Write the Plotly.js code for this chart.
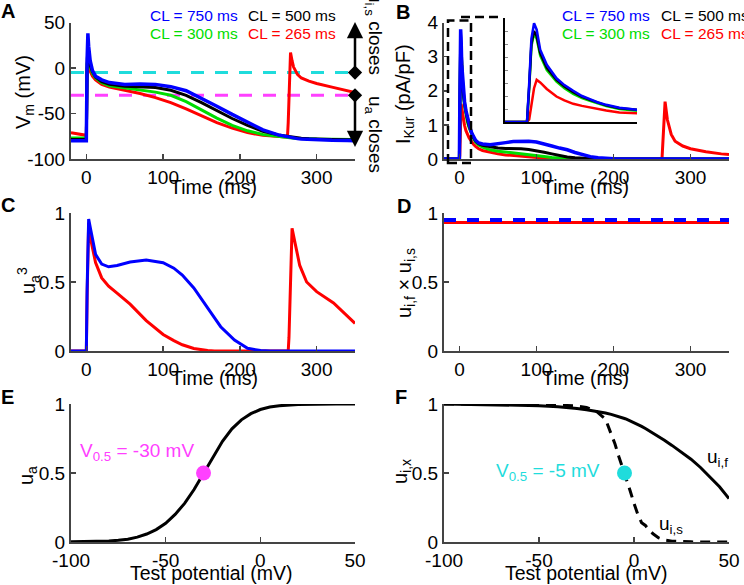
<!DOCTYPE html>
<html>
<head>
<meta charset="utf-8">
<script src="https://cdn.plot.ly/plotly-3.0.1.min.js"></script>
<style>html,body{margin:0;padding:0;background:#fff;}#chart{width:744px;height:585px;}</style>
</head>
<body>
<div id="chart"></div>
<script>
// ---------- DATA ----------
// Panel A: membrane potential (mV) vs time (ms)
var tA = [-20, 0, 1, 2, 3, 5, 8, 12, 20, 30, 50, 70, 90, 110, 130, 150, 170, 190, 210, 230, 250, 262, 263, 265, 266, 268, 270, 275, 280, 290, 300, 320, 340, 350];
var vm750 = [-80, -80, 10, 38, 24, 8, -3, -9, -13, -16, -18, -17.5, -18, -20.5, -25, -33, -42, -51, -60, -68, -73.5, -75.8, -76, -76.3, -76.5, -76.8, -77, -77.6, -78, -78.6, -79, -79.5, -79.8, -80];
var vm500 = [-78.5, -78.5, 5, 22, 12, 3, -4, -10, -15, -18, -20, -20.5, -21.5, -24.5, -30, -38, -47, -55.5, -63, -69.5, -73.5, -75.3, -75.5, -75.7, -75.8, -76, -76.3, -76.8, -77.2, -77.8, -78.2, -78.6, -78.8, -79];
var vm300 = [-77, -77, 4, 10, 6, 0, -6, -11, -16, -19.5, -22, -24, -26.5, -30, -37, -46, -55, -63, -69, -73, -75.5, -76.5, -76.6, -76.8, -76.9, -77, -77.1, -77.3, -77.5, -77.8, -78, -78.2, -78.4, -78.5];
var vm265 = [-71, -74, 0, 3, 0, -4, -9, -13, -18, -21, -24.5, -28, -32.5, -38, -45, -52.5, -60, -66, -71, -74, -75.5, -76, -60, 5, 17, 8, 1, -7, -11, -14.5, -17, -21, -25, -27];
var xSpanA = [-20, 350];
var uisHalf = [-5, -5];   // cyan dashed level
var uaHalf = [-30, -30];  // magenta dashed level
var arrowBaseX = [350, 350];
var arrowBaseY = [-5, -30];

// Panel B: I_Kur (pA/pF)
var tB = [-20, 0, 0.5, 1, 1.6, 2.2, 3, 4.5, 6.7, 8.5, 10.5, 12.5, 14.3, 16, 18, 21, 25, 30, 40, 50, 60, 70, 80, 90, 100, 110, 120, 130, 140, 150, 160, 170, 180, 190, 200, 263, 265, 267, 270, 275, 280, 290, 300, 320, 340, 350];
var ik750 = [0, 0, 1.5, 3.2, 3.8, 3.55, 2.78, 2.2, 1.68, 1.42, 1.2, 1.0, 0.88, 0.76, 0.66, 0.55, 0.47, 0.44, 0.42, 0.44, 0.48, 0.51, 0.52, 0.52, 0.5, 0.45, 0.38, 0.32, 0.27, 0.19, 0.12, 0.07, 0.035, 0.015, 0.005, 0, 0, 0, 0, 0, 0, 0, 0, 0, 0, 0];
var ik500 = [0, 0, 1.35, 3.0, 3.5, 3.3, 2.65, 2.08, 1.62, 1.37, 1.15, 0.97, 0.85, 0.74, 0.64, 0.53, 0.45, 0.4, 0.35, 0.32, 0.31, 0.31, 0.3, 0.28, 0.25, 0.2, 0.15, 0.1, 0.06, 0.035, 0.018, 0.008, 0.003, 0, 0, 0, 0, 0, 0, 0, 0, 0, 0, 0, 0, 0];
var ik300 = [0, 0, 1.3, 2.9, 3.4, 3.2, 2.55, 2.0, 1.55, 1.3, 1.08, 0.92, 0.81, 0.71, 0.61, 0.5, 0.41, 0.35, 0.27, 0.23, 0.2, 0.18, 0.16, 0.13, 0.1, 0.07, 0.045, 0.025, 0.012, 0.005, 0, 0, 0, 0, 0, 0, 0, 0, 0, 0, 0, 0, 0, 0, 0, 0];
var ik265 = [0, 0, 0.1, 0.6, 1.3, 1.62, 1.52, 1.27, 0.98, 0.83, 0.7, 0.62, 0.56, 0.5, 0.44, 0.37, 0.3, 0.25, 0.19, 0.15, 0.12, 0.1, 0.08, 0.055, 0.035, 0.018, 0.008, 0.002, 0, 0, 0, 0, 0, 0, 0, 0, 0.9, 1.68, 1.15, 0.72, 0.52, 0.38, 0.3, 0.21, 0.15, 0.13];

// Panel C: u_a^3
var tC = [-20, 0, 1, 3, 6, 12, 20, 29, 40, 57, 78, 100, 114, 125, 140, 150, 158, 167, 175, 185, 193, 210, 227, 240, 263, 264, 266, 268, 272, 278, 287, 300, 322, 350];
var ua3_750 = [0, 0, 0.45, 0.957, 0.87, 0.7, 0.63, 0.61, 0.62, 0.645, 0.66, 0.64, 0.6, 0.55, 0.457, 0.38, 0.31, 0.24, 0.176, 0.12, 0.08, 0.02, 0.003, 0, 0, 0, 0, 0, 0, 0, 0, 0, 0, 0];
var ua3_265 = [0, 0, 0.4, 0.93, 0.8, 0.64, 0.53, 0.47, 0.42, 0.34, 0.22, 0.12, 0.075, 0.045, 0.018, 0.008, 0.003, 0, 0, 0, 0, 0, 0, 0, 0, 0.1, 0.6, 0.889, 0.78, 0.62, 0.5, 0.43, 0.348, 0.2];

// Panel D: u_i,f x u_i,s
var tD = [-20, 0, 100, 200, 300, 350];
var uiProd750 = [0.95, 0.95, 0.95, 0.95, 0.95, 0.95];
var uiProd265 = [0.932, 0.932, 0.932, 0.932, 0.932, 0.932];

// Panel E: steady-state u_a
var vE = [-100, -90, -80, -75, -70, -65, -60, -55, -50, -45, -40, -35, -30, -25, -20, -15, -10, -5, 0, 5, 10, 20, 30, 40, 50];
var uaInf = [0.001, 0.003, 0.008, 0.012, 0.02, 0.035, 0.058, 0.09, 0.135, 0.2, 0.28, 0.38, 0.5, 0.62, 0.73, 0.82, 0.885, 0.93, 0.96, 0.978, 0.988, 0.997, 1, 1, 1];
var uaV05 = [-30], uaV05y = [0.5];

// Panel F: steady-state u_i,f and u_i,s
var vF = [-100, -80, -60, -50, -40, -35, -30, -25, -20, -15, -12, -10, -8, -6, -5, -4, -2, 0, 2, 4, 6, 8, 10, 13, 16, 20, 25, 30, 35, 40, 45, 50];
var uifInf = [1.0, 0.997, 0.992, 0.988, 0.98, 0.975, 0.968, 0.958, 0.948, 0.935, 0.925, 0.918, 0.91, 0.9, 0.895, 0.89, 0.878, 0.865, 0.852, 0.838, 0.822, 0.806, 0.79, 0.765, 0.738, 0.7, 0.65, 0.6, 0.54, 0.47, 0.4, 0.315];
var uisInf = [1, 1, 0.998, 0.996, 0.993, 0.99, 0.985, 0.975, 0.95, 0.89, 0.78, 0.71, 0.62, 0.54, 0.5, 0.46, 0.37, 0.28, 0.2, 0.14, 0.12, 0.085, 0.06, 0.03, 0.015, 0.006, 0.002, 0.001, 0, 0, 0, 0];
var uisV05 = [-5], uisV05y = [0.5];

// tick labels
var timeTicks = [0, 100, 200, 300], timeText = ['0', '100', '200', '300'];
var vmTicks = [-100, -50, 0, 50], vmText = ['-100', '-50', '0', '50'];
var ikTicks = [0, 1, 2, 3, 4], ikText = ['0', '1', '2', '3', '4'];
var unitTicks = [0, 0.5, 1], unitText = ['0', '0.5', '1'];
var testTicks = [-100, -50, 0, 50], testText = ['-100', '-50', '0', '50'];

// ---------- STYLE ----------
var FONT = 'Liberation Sans, Arial, sans-serif';
var BLUE = '#0000ff', BLACK = '#000000', GREEN = '#00dd00', RED = '#ff0000';
var CYAN = '#1fdcdc', MAGENTA = '#ff40ff';
function px(x) { return x / 744; }
function py(y) { return 1 - y / 585; }

var colL = [px(71), px(355)], colR = [px(444), px(729)];
var row1 = [py(159), py(22.5)], row2 = [py(351), py(213)], row3 = [py(542), py(404)];

function axis(domain, range, tv, tt, anchor) {
  return {
    domain: domain, range: range, tickvals: tv, ticktext: tt,
    ticks: tv ? 'inside' : '', ticklen: 5, tickwidth: 1.5, tickcolor: '#444',
    showline: true, linecolor: '#444', linewidth: 2,
    showgrid: false, zeroline: false, anchor: anchor, fixedrange: true,
    tickfont: {family: FONT, size: 19, color: '#000'}
  };
}

function line(x, y, xa, ya, color, width, dash) {
  return {x: x, y: y, xaxis: xa, yaxis: ya, type: 'scatter', mode: 'lines',
          line: {color: color, width: width, dash: dash || 'solid'}, hoverinfo: 'skip'};
}

var traces = [
  // A
  line(xSpanA, uisHalf, 'x', 'y', CYAN, 3, '13px,11px'),
  line(xSpanA, uaHalf, 'x', 'y', MAGENTA, 3, '13px,11px'),
  line(tA, vm265, 'x', 'y', RED, 3),
  line(tA, vm300, 'x', 'y', GREEN, 3),
  line(tA, vm500, 'x', 'y', BLACK, 3),
  line(tA, vm750, 'x', 'y', BLUE, 3.5),
  {x: arrowBaseX, y: arrowBaseY, xaxis: 'x', yaxis: 'y', type: 'scatter', mode: 'markers',
   marker: {symbol: 'diamond', size: 11, color: '#000'}, cliponaxis: false, hoverinfo: 'skip'},
  // B
  line(tB, ik265, 'x2', 'y2', RED, 3),
  line(tB, ik300, 'x2', 'y2', GREEN, 3),
  line(tB, ik500, 'x2', 'y2', BLACK, 3),
  line(tB, ik750, 'x2', 'y2', BLUE, 3.5),
  // B inset
  line(tB, ik265, 'x7', 'y7', RED, 2.5),
  line(tB, ik300, 'x7', 'y7', GREEN, 2.5),
  line(tB, ik500, 'x7', 'y7', BLACK, 2.5),
  line(tB, ik750, 'x7', 'y7', BLUE, 2.5),
  // C
  line(tC, ua3_265, 'x3', 'y3', RED, 3),
  line(tC, ua3_750, 'x3', 'y3', BLUE, 3),
  // D
  line(tD, uiProd265, 'x4', 'y4', RED, 3),
  line(tD, uiProd750, 'x4', 'y4', BLUE, 4, '12px,11px'),
  // E
  line(vE, uaInf, 'x5', 'y5', BLACK, 3),
  {x: uaV05, y: uaV05y, xaxis: 'x5', yaxis: 'y5', type: 'scatter', mode: 'markers',
   marker: {size: 15, color: MAGENTA}, hoverinfo: 'skip'},
  // F
  line(vF, uifInf, 'x6', 'y6', BLACK, 3),
  line(vF, uisInf, 'x6', 'y6', BLACK, 3, '10px,7px'),
  {x: uisV05, y: uisV05y, xaxis: 'x6', yaxis: 'y6', type: 'scatter', mode: 'markers',
   marker: {size: 15, color: CYAN}, hoverinfo: 'skip'}
];

function txt(text, x, y, size, color, opts) {
  var a = {text: text, xref: 'paper', yref: 'paper', x: px(x), y: py(y), showarrow: false,
           xanchor: 'center', yanchor: 'middle', font: {family: FONT, size: size, color: color || '#000'}};
  if (opts) for (var k in opts) a[k] = opts[k];
  return a;
}

var annotations = [
  // panel letters
  txt('<b>A</b>', 8, 11, 20), txt('<b>B</b>', 403, 12, 20),
  txt('<b>C</b>', 8, 205, 20), txt('<b>D</b>', 404, 206, 20),
  txt('<b>E</b>', 7, 397, 20), txt('<b>F</b>', 401, 397, 20),
  // legends A
  txt('CL = 750 ms', 148, 15, 15.5, BLUE, {xanchor: 'left'}),
  txt('CL = 500 ms', 246, 15, 15.5, BLACK, {xanchor: 'left'}),
  txt('CL = 300 ms', 148, 33, 15.5, GREEN, {xanchor: 'left'}),
  txt('CL = 265 ms', 246, 33, 15.5, RED, {xanchor: 'left'}),
  // legends B
  txt('CL = 750 ms', 560, 15, 15.5, BLUE, {xanchor: 'left'}),
  txt('CL = 500 ms', 659, 15, 15.5, BLACK, {xanchor: 'left'}),
  txt('CL = 300 ms', 560, 33, 15.5, GREEN, {xanchor: 'left'}),
  txt('CL = 265 ms', 659, 33, 15.5, RED, {xanchor: 'left'}),
  // y titles
  txt('V<sub>m</sub> (mV)', 24, 92, 20, '#000', {textangle: -90}),
  txt('I<sub>Kur</sub> (pA/pF)', 405, 94, 20, '#000', {textangle: -90}),
  txt('u<sub>a</sub><sup>3</sup>', 28, 281, 20, '#000', {textangle: -90}),
  txt('u<sub>i,f</sub> × u<sub>i,s</sub>', 405, 283, 20, '#000', {textangle: -90}),
  txt('u<sub>a</sub>', 27, 476, 20, '#000', {textangle: -90}),
  txt('u<sub>i,x</sub>', 401, 472, 20, '#000', {textangle: -90}),
  // x titles
  txt('Time (ms)', 213, 187, 19.5), txt('Time (ms)', 585, 187, 19.5),
  txt('Time (ms)', 214, 378, 19.5), txt('Time (ms)', 585, 378, 19.5),
  txt('Test potential (mV)', 211, 573, 19.5), txt('Test potential (mV)', 586, 573, 19.5),
  // A side labels and arrows
  txt('u<sub>i,s</sub> closes', 374, 33, 19, '#000', {textangle: 90}),
  txt('u<sub>a</sub> closes', 374, 134, 19, '#000', {textangle: 90}),
  {xref: 'paper', yref: 'paper', x: px(355), y: py(22), ax: 0, ay: 51, showarrow: true,
   arrowhead: 2, arrowsize: 1.3, arrowwidth: 2.5, arrowcolor: '#000', text: ''},
  {xref: 'paper', yref: 'paper', x: px(355), y: py(147), ax: 0, ay: -50, showarrow: true,
   arrowhead: 2, arrowsize: 1.3, arrowwidth: 2.5, arrowcolor: '#000', text: ''},
  // B zoom arrow head
  {xref: 'paper', yref: 'paper', x: px(502), y: py(17), ax: -4, ay: 0, showarrow: true,
   arrowhead: 4, arrowsize: 1.4, arrowwidth: 2, arrowcolor: '#000', text: ''},
  // E / F texts
  txt('V<sub>0.5</sub> = -30 mV', 137, 452, 19, MAGENTA),
  txt('V<sub>0.5</sub> = -5 mV', 548, 472, 19, CYAN),
  txt('u<sub>i,f</sub>', 717, 458, 19),
  txt('u<sub>i,s</sub>', 671, 525, 19)
];

var shapes = [
  {type: 'rect', xref: 'paper', yref: 'paper', x0: px(448), x1: px(471), y0: py(163), y1: py(20.5),
   line: {color: '#000', width: 2.5, dash: '9px,5px'}, fillcolor: 'rgba(0,0,0,0)'},
  {type: 'line', xref: 'paper', yref: 'paper', x0: px(461), x1: px(498), y0: py(17), y1: py(17),
   line: {color: '#000', width: 2.5, dash: '9px,5px'}}
];

var layout = {
  width: 744, height: 585, margin: {l: 0, r: 0, t: 0, b: 0},
  paper_bgcolor: '#fff', plot_bgcolor: 'rgba(0,0,0,0)', showlegend: false,
  font: {family: FONT, size: 19, color: '#000'},
  xaxis: axis(colL, [-20, 350], timeTicks, timeText, 'y'),
  yaxis: axis(row1, [-100, 50], vmTicks, vmText, 'x'),
  xaxis2: axis(colR, [-20, 350], timeTicks, timeText, 'y2'),
  yaxis2: axis(row1, [0, 4], ikTicks, ikText, 'x2'),
  xaxis3: axis(colL, [-20, 350], timeTicks, timeText, 'y3'),
  yaxis3: axis(row2, [0, 1], unitTicks, unitText, 'x3'),
  xaxis4: axis(colR, [-20, 350], timeTicks, timeText, 'y4'),
  yaxis4: axis(row2, [0, 1], unitTicks, unitText, 'x4'),
  xaxis5: axis(colL, [-100, 50], testTicks, testText, 'y5'),
  yaxis5: axis(row3, [0, 1], unitTicks, unitText, 'x5'),
  xaxis6: axis(colR, [-100, 50], testTicks, testText, 'y6'),
  yaxis6: axis(row3, [0, 1], unitTicks, unitText, 'x6'),
  xaxis7: {domain: [px(505), px(637)], range: [-5, 25], anchor: 'y7', showline: true, linecolor: '#000', linewidth: 2,
           showgrid: false, zeroline: false, ticks: '', showticklabels: false, fixedrange: true},
  yaxis7: {domain: [py(122), py(18)], range: [0, 4], anchor: 'x7', showline: true, linecolor: '#000', linewidth: 2,
           showgrid: false, zeroline: false, ticks: 'inside', ticklen: 3, tickcolor: '#888', dtick: 0.5,
           showticklabels: false, fixedrange: true},
  annotations: annotations,
  shapes: shapes
};

Plotly.newPlot('chart', traces, layout, {staticPlot: true, displayModeBar: false});
</script>
</body>
</html>
